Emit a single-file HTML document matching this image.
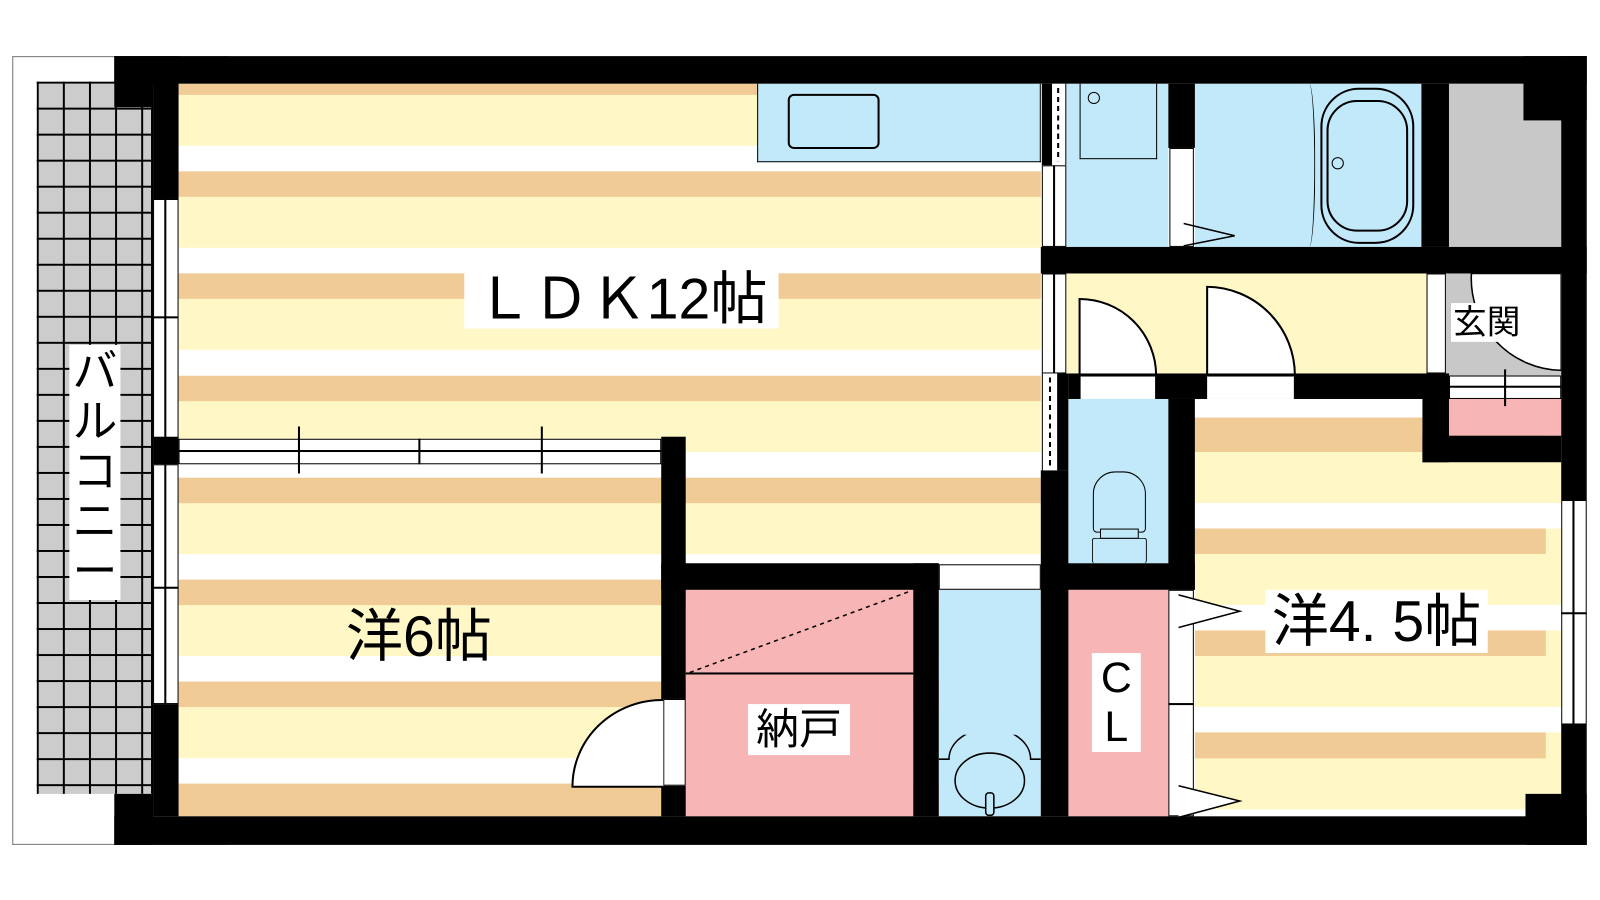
<!DOCTYPE html>
<html><head><meta charset="utf-8"><style>
html,body{margin:0;padding:0;background:#fff;width:1600px;height:900px;overflow:hidden}
#c{position:absolute;left:0;top:0;width:1568px;height:882px;transform:scale(1.0204);transform-origin:0 0}
#c div{position:absolute;box-sizing:border-box}
.k{background:#000}
.st{background:repeating-linear-gradient(to bottom,#f0cb96 0 25px,#fff8c6 25px 75px,#fff 75px 100px)}
.bl{background:#c2e9f9}
.pk{background:#f8b5b5}
.gy{background:#c8c8c8}
.w{background:#fff;border:1.5px solid #000}
.t{font-family:"Liberation Sans","Noto Sans CJK JP",sans-serif;color:#000;background:#fff;text-align:center;line-height:1}
.ln{background:#000}
</style></head><body><div id="c">
<div style="left:12px;top:55px;width:213px;height:773px;border:1.5px solid #777;border-right:none"></div>
<div style="left:36px;top:80px;width:114px;height:698px;background-color:#ccc;background-image:linear-gradient(to right,#000 0 2px,transparent 2px),linear-gradient(to bottom,#000 0 2px,transparent 2px);background-size:25.6px 25.5px;border-right:2px solid #000"></div>
<div class="t" style="left:68px;top:338px;width:50px;height:250px;font-size:44px;line-height:49px;padding-top:2px">バ<br>ル<br>コ<br>ニ<br>ー</div>

<div class="st" style="left:175px;top:82px;width:845px;height:718px;background-position:0 -14px"></div>
<div class="st" style="left:1171px;top:391px;width:344px;height:409px;background-position:0 27px"></div>
<div style="left:1515px;top:391px;width:15px;height:409px;background:repeating-linear-gradient(to bottom,#fff8c6 0 75px,#fff 75px 100px);background-position:0 27px"></div>

<div class="bl" style="left:742px;top:82px;width:278px;height:77px;border:1.5px solid #000;border-top:none"></div>
<div style="left:772px;top:92px;width:90px;height:54px;border:2px solid #000;border-radius:6px"></div>

<div class="bl" style="left:1045px;top:82px;width:100px;height:160px"></div>
<div style="left:1058px;top:82px;width:76px;height:74px;border:1.5px solid #000;border-top:none"></div>
<div style="left:1066px;top:90px;width:12px;height:12px;border:1.5px solid #000;border-radius:50%"></div>
<div class="bl" style="left:1171px;top:82px;width:222px;height:160px"></div>
<div style="left:1277px;top:82px;width:12px;height:160px;border-right:1.5px solid #000;border-radius:0 50% 50% 0/0 50% 50% 0"></div>
<div style="left:1294px;top:86px;width:92px;height:153px;border:2px solid #000;border-radius:38px"></div>
<div style="left:1300px;top:98px;width:80px;height:129px;border:2px solid #000;border-radius:30px"></div>
<div style="left:1305px;top:154px;width:12px;height:12px;border:1.5px solid #000;border-radius:50%"></div>
<div class="gy" style="left:1420px;top:82px;width:110px;height:160px"></div>
<div class="w" style="left:1146px;top:145px;width:24px;height:97px"></div>
<svg style="position:absolute;left:1140px;top:215px" width="80" height="30"><path d="M20 4 L70 16 L20 26" stroke="#000" fill="none" stroke-width="1.5"/></svg>

<div style="left:1045px;top:268px;width:353px;height:98px;background:#fff8c6"></div>
<div class="gy" style="left:1417px;top:268px;width:113px;height:100px"></div>
<svg style="position:absolute;left:1417px;top:268px" width="113" height="100"><path d="M25 0 A 90 90 0 0 0 113 95 L113 0 Z" fill="#fff" stroke="#000" stroke-width="1.5"/></svg>
<div class="t" style="left:1422px;top:297px;width:70px;height:38px;font-size:33px;padding-top:2px">玄関</div>
<div class="w" style="left:1398px;top:268px;width:19px;height:98px"></div>
<div class="w" style="left:1021px;top:268px;width:24px;height:98px"></div>
<div class="ln" style="left:1032px;top:268px;width:1.5px;height:98px"></div>
<svg style="position:absolute;left:1050px;top:280px" width="240" height="90"><path d="M8 88 L8 13 A 75 75 0 0 1 83 88" fill="#fff" stroke="#000" stroke-width="2"/><path d="M133 88 L133 1 A 87 87 0 0 1 219 88" fill="#fff" stroke="#000" stroke-width="2"/></svg>

<div class="pk" style="left:1420px;top:391px;width:110px;height:36px"></div>
<div class="w" style="left:1420px;top:368px;width:110px;height:23px"></div>
<div class="ln" style="left:1420px;top:378px;width:110px;height:1.5px"></div>
<div class="ln" style="left:1474px;top:362px;width:1.5px;height:36px"></div>

<div class="bl" style="left:1047px;top:391px;width:98px;height:161px"></div>
<div style="left:1071px;top:462px;width:52px;height:60px;border:1.5px solid #000;border-radius:22px 22px 4px 4px"></div>
<div style="left:1078px;top:518px;width:38px;height:10px;border:1.5px solid #000;background:#c2e9f9"></div>
<div style="left:1070px;top:527px;width:54px;height:25px;border:1.5px solid #000;border-radius:3px;border-bottom:none"></div>

<div class="pk" style="left:672px;top:578px;width:223px;height:222px"></div>
<div class="ln" style="left:672px;top:659px;width:223px;height:2px"></div>
<svg style="position:absolute;left:672px;top:578px" width="223" height="84"><line x1="4" y1="81" x2="221" y2="1" stroke="#000" stroke-width="1.5" stroke-dasharray="4,4"/></svg>
<div class="t" style="left:733px;top:690px;width:100px;height:50px;font-size:42px;padding-top:4px">納戸</div>

<div class="bl" style="left:920px;top:578px;width:100px;height:222px"></div>
<div class="w" style="left:920px;top:553px;width:100px;height:25px"></div>
<svg style="position:absolute;left:920px;top:720px" width="100" height="82"><path d="M0 24 L10 24 A 40 30 0 0 1 90 24 L100 24" fill="none" stroke="#000" stroke-width="1.5"/><ellipse cx="50" cy="45" rx="34" ry="27" fill="none" stroke="#000" stroke-width="1.5"/><rect x="46" y="57" width="8" height="22" rx="3" fill="#c2e9f9" stroke="#000" stroke-width="1.5"/></svg>

<div class="pk" style="left:1045px;top:578px;width:100px;height:222px"></div>
<div class="t" style="left:1070px;top:640px;width:48px;height:97px;font-size:42px;line-height:48px">C<br>L</div>
<div class="w" style="left:1145px;top:578px;width:25px;height:222px"></div>
<div class="ln" style="left:1145px;top:689px;width:25px;height:1.5px"></div>
<svg style="position:absolute;left:1140px;top:575px" width="80" height="230"><path d="M15 8 L75 24 L15 40 M15 195 L75 210 L15 226" stroke="#000" fill="#fff" stroke-width="1.5"/></svg>

<div class="t" style="left:455px;top:262px;width:308px;height:60px;font-size:56px;padding-top:3px">ＬＤＫ12帖</div>
<div class="t" style="left:333px;top:594px;width:155px;height:60px;font-size:56px;padding-top:2px;background:transparent">洋6帖</div>
<div class="t" style="left:1240px;top:578px;width:218px;height:62px;font-size:56px;padding-top:3px">洋4. 5帖</div>

<div class="w" style="left:150px;top:195px;width:25px;height:235px"></div>
<div class="ln" style="left:161px;top:195px;width:1.5px;height:235px"></div>
<div class="ln" style="left:150px;top:310px;width:25px;height:1.5px"></div>
<div class="w" style="left:150px;top:455px;width:25px;height:235px"></div>
<div class="ln" style="left:161px;top:455px;width:1.5px;height:235px"></div>
<div class="ln" style="left:150px;top:575px;width:25px;height:1.5px"></div>
<div class="w" style="left:175px;top:430px;width:473px;height:25px"></div>
<div class="ln" style="left:175px;top:441px;width:473px;height:1.5px"></div>
<div class="ln" style="left:292px;top:418px;width:1.5px;height:46px"></div>
<div class="ln" style="left:410px;top:430px;width:1.5px;height:25px"></div>
<div class="ln" style="left:530px;top:418px;width:1.5px;height:46px"></div>
<div class="w" style="left:1530px;top:490px;width:25px;height:220px"></div>
<div class="ln" style="left:1541px;top:490px;width:1.5px;height:220px"></div>
<div class="ln" style="left:1530px;top:600px;width:25px;height:1.5px"></div>
<div style="left:1021px;top:82px;width:24px;height:80px;background:#fff;border-left:10px solid #000;border-right:1.5px solid #000"></div>
<div style="left:1036px;top:86px;width:2px;height:72px;background:repeating-linear-gradient(to bottom,#000 0 5px,transparent 5px 9px)"></div>
<div class="w" style="left:1021px;top:162px;width:24px;height:80px"></div>
<div class="ln" style="left:1032px;top:162px;width:1.5px;height:80px"></div>
<div style="left:1021px;top:366px;width:26px;height:95px;background:#fff;border-left:1.5px solid #000;border-right:11px solid #000"></div>
<div style="left:1028px;top:370px;width:2px;height:88px;background:repeating-linear-gradient(to bottom,#000 0 5px,transparent 5px 9px)"></div>

<div class="k" style="left:112px;top:55px;width:1443px;height:27px"></div>
<div class="k" style="left:112px;top:800px;width:1443px;height:28px"></div>
<div class="k" style="left:112px;top:55px;width:38px;height:50px"></div>
<div class="k" style="left:150px;top:55px;width:25px;height:140px"></div>
<div class="k" style="left:150px;top:428px;width:25px;height:27px"></div>
<div class="k" style="left:150px;top:690px;width:25px;height:110px"></div>
<div class="k" style="left:112px;top:778px;width:38px;height:50px"></div>
<div class="k" style="left:1530px;top:55px;width:25px;height:435px"></div>
<div class="k" style="left:1493px;top:55px;width:62px;height:63px"></div>
<div class="k" style="left:1530px;top:710px;width:25px;height:118px"></div>
<div class="k" style="left:1495px;top:778px;width:60px;height:50px"></div>
<div class="k" style="left:1145px;top:82px;width:26px;height:63px"></div>
<div class="k" style="left:1393px;top:82px;width:27px;height:160px"></div>
<div class="k" style="left:1020px;top:242px;width:535px;height:26px"></div>
<div class="k" style="left:1047px;top:366px;width:373px;height:25px"></div>
<div class="w" style="left:1059px;top:368px;width:73px;height:23px;border-width:1.5px 0 0 0"></div>
<div class="w" style="left:1183px;top:368px;width:85px;height:23px;border-width:1.5px 0 0 0"></div>
<div class="k" style="left:1394px;top:366px;width:26px;height:87px"></div>
<div class="k" style="left:1394px;top:427px;width:136px;height:26px"></div>
<div class="k" style="left:1145px;top:391px;width:26px;height:187px"></div>
<div class="k" style="left:1020px;top:461px;width:27px;height:339px"></div>
<div class="k" style="left:1045px;top:552px;width:126px;height:26px"></div>
<div class="k" style="left:648px;top:428px;width:24px;height:257px"></div>
<div class="k" style="left:648px;top:770px;width:24px;height:30px"></div>
<div class="w" style="left:650px;top:685px;width:22px;height:85px"></div>
<svg style="position:absolute;left:558px;top:683px" width="95" height="92"><path d="M92 88 L3 88 A 88 85 0 0 1 92 3" fill="#fff" stroke="#000" stroke-width="2"/></svg>
<div class="k" style="left:648px;top:552px;width:272px;height:26px"></div>
<div class="k" style="left:895px;top:552px;width:25px;height:248px"></div>
</div></body></html>
